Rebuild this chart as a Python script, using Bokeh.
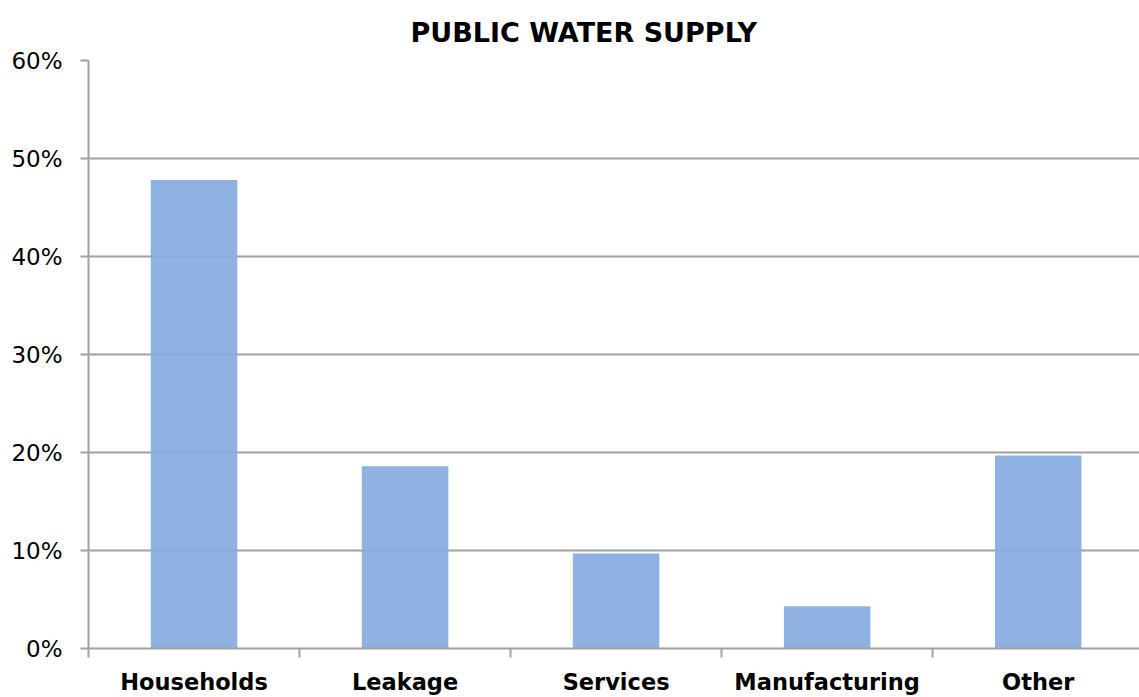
import numpy as np
from bokeh.plotting import figure
from bokeh.models import FixedTicker, Range1d, ColumnDataSource, Title
from bokeh.embed import file_html
from bokeh.resources import INLINE

categories = ["Households", "Leakage", "Services", "Manufacturing", "Other"]
shares = [47.8, 18.6, 9.7, 4.3, 19.7]
y_ticks = [0, 10, 20, 30, 40, 50, 60]
y_tick_labels = ["0%", "10%", "20%", "30%", "40%", "50%", "60%"]

FONT = "DejaVu Sans"

xpos = np.arange(len(categories)) + 0.5
src = ColumnDataSource(dict(x=xpos, top=shares, cat=categories))

p = figure(width=1139, height=697, output_backend="svg", toolbar_location=None,
           x_range=Range1d(0, 4.98), y_range=Range1d(0, 60))
p.min_border_left = 88
p.min_border_right = 0
p.min_border_top = 60
p.min_border_bottom = 49
p.outline_line_color = None
p.background_fill_color = "white"
p.border_fill_color = "white"

t = Title(text="PUBLIC WATER SUPPLY", align="left", vertical_align="top", text_font=FONT,
          text_font_size="27px", text_font_style="bold", text_color="black",
          offset=322, standoff=22)
p.add_layout(t, "above")

p.vbar(x="x", top="top", width=0.41, bottom=0, source=src,
       fill_color="#86abe1", fill_alpha=0.92, line_color=None)

# y axis
p.yaxis.ticker = FixedTicker(ticks=y_ticks)
p.yaxis.major_label_overrides = {v: l for v, l in zip(y_ticks, y_tick_labels)}
p.yaxis.major_label_text_font = FONT
p.yaxis.major_label_text_font_size = "23px"
p.yaxis.major_label_text_color = "black"
p.yaxis.axis_line_color = "#a0a0a0"
p.yaxis.axis_line_width = 2
p.yaxis.major_tick_line_color = "#a0a0a0"
p.yaxis.major_tick_line_width = 2
p.yaxis.major_tick_out = 8
p.yaxis.major_tick_in = 0
p.yaxis.minor_tick_line_color = None
p.yaxis.major_label_standoff = 18

# x axis
p.xaxis.ticker = FixedTicker(ticks=list(xpos), minor_ticks=list(range(len(categories) + 1)))
p.xaxis.major_label_overrides = {float(x): c for x, c in zip(xpos, categories)}
p.xaxis.major_label_text_font = FONT
p.xaxis.major_label_text_font_size = "22.5px"
p.xaxis.major_label_text_font_style = "bold"
p.xaxis.major_label_text_color = "black"
p.xaxis.axis_line_color = "#a0a0a0"
p.xaxis.axis_line_width = 2
p.xaxis.major_tick_line_color = None
p.xaxis.major_tick_out = 9
p.xaxis.major_tick_in = 0
p.xaxis.minor_tick_line_color = "#a0a0a0"
p.xaxis.minor_tick_line_width = 2
p.xaxis.minor_tick_out = 9
p.xaxis.minor_tick_in = 0
p.xaxis.major_label_standoff = 11

p.xgrid.grid_line_color = None
p.ygrid.grid_line_color = "#a0a0a0"
p.ygrid.grid_line_width = 2

open("out.html", "w").write(file_html(p, INLINE))
